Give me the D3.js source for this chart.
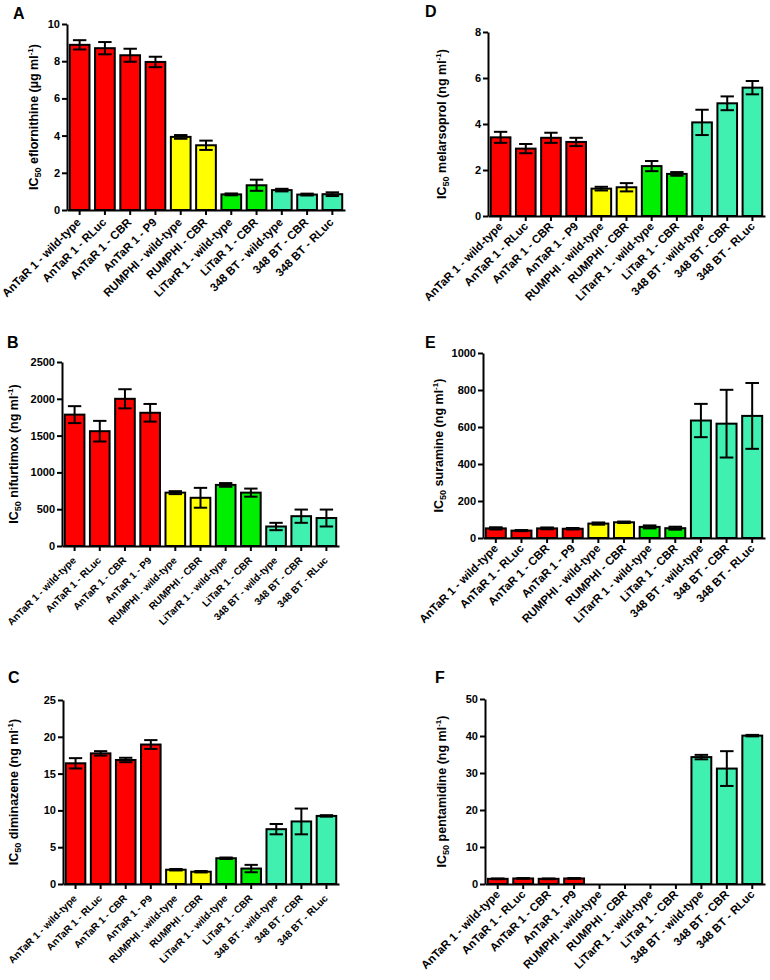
<!DOCTYPE html>
<html>
  <head>
    <script src="https://d3js.org/d3.v7.min.js"></script>
    <style>
      body { margin: 0; background: #fff; }
      text { font-family: "Liberation Sans", Arial, sans-serif; font-weight: bold; }
    </style>
  </head>
  <body>
    <script>

    // cell lines on the x axis, and the group each belongs to (sets the colour)
    var categories = ["AnTaR 1 - wild-type", "AnTaR 1 - RLuc", "AnTaR 1 - CBR", "AnTaR 1 - P9",
                      "RUMPHI - wild-type", "RUMPHI - CBR", "LiTarR 1 - wild-type", "LiTaR 1 - CBR",
                      "348 BT - wild-type", "348 BT - CBR", "348 BT - RLuc"];
    var groups = ["AnTaR", "AnTaR", "AnTaR", "AnTaR", "RUMPHI", "RUMPHI",
                  "LiTaR", "LiTaR", "348BT", "348BT", "348BT"];

    // IC50 means and error
    var eflornithine    = [8.88, 8.70, 8.32, 7.96, 3.93, 3.48, 0.84, 1.33, 1.07, 0.83, 0.85];
    var eflornithineErr = [0.25, 0.33, 0.35, 0.28, 0.10, 0.25, 0.05, 0.30, 0.07, 0.05, 0.10];
    var nifurtimox      = [1785, 1560, 2000, 1810, 725, 655, 830, 725, 265, 405, 380];
    var nifurtimoxErr   = [115, 140, 130, 120, 20, 135, 25, 55, 50, 90, 115];
    var diminazene      = [16.4, 17.75, 16.85, 18.95, 1.94, 1.67, 3.5, 2.1, 7.45, 8.5, 9.25];
    var diminazeneErr   = [0.7, 0.3, 0.3, 0.6, 0.1, 0.1, 0.1, 0.5, 0.7, 1.75, 0.1];
    var melarsoprol     = [3.42, 2.93, 3.40, 3.22, 1.19, 1.25, 2.17, 1.83, 4.07, 4.90, 5.58];
    var melarsoprolErr  = [0.24, 0.20, 0.22, 0.18, 0.08, 0.18, 0.22, 0.08, 0.55, 0.30, 0.29];
    var suramine        = [52, 40, 52, 50, 78, 85, 60, 53, 635, 618, 660];
    var suramineErr     = [6, 3, 5, 4, 6, 4, 8, 8, 90, 183, 178];
    var pentamidine     = [1.4, 1.5, 1.4, 1.5, null, null, null, null, 34.3, 31.2, 40.1];
    var pentamidineErr  = [0.1, 0.1, 0.1, 0.1, null, null, null, null, 0.6, 4.7, 0.2];

    // y axis tick values per panel
    var ticksA = [0, 2, 4, 6, 8, 10];
    var ticksB = [0, 500, 1000, 1500, 2000, 2500];
    var ticksC = [0, 5, 10, 15, 20, 25];
    var ticksD = [0, 2, 4, 6, 8];
    var ticksE = [0, 200, 400, 600, 800, 1000];
    var ticksF = [0, 10, 20, 30, 40, 50];

    var colors = { "AnTaR": "#ff0000", "RUMPHI": "#ffff00", "LiTaR": "#00ee00", "348BT": "#40f0b0" };

    // panel layout (pixels); lab = x label font size, labX/labY = offset of label end from tick
    var panels = [
      { letter: "A", drug: "eflornithine", unit: "µg", values: eflornithine, errors: eflornithineErr, ticks: ticksA,
        left: 67, right: 345, top: 24, bottom: 210, titleX: 38, letterX: 13, letterY: 19,
        lab: 11.5, labX: 2, labY: 13 },
      { letter: "B", drug: "nifurtimox", unit: "ng", values: nifurtimox, errors: nifurtimoxErr, ticks: ticksB,
        left: 62, right: 339, top: 362, bottom: 546, titleX: 18, letterX: 7, letterY: 348,
        lab: 10, labX: 2, labY: 15 },
      { letter: "C", drug: "diminazene", unit: "ng", values: diminazene, errors: diminazeneErr, ticks: ticksC,
        left: 63, right: 339, top: 700, bottom: 884, titleX: 18, letterX: 8, letterY: 683,
        lab: 10, labX: 2, labY: 15 },
      { letter: "D", drug: "melarsoprol", unit: "ng", values: melarsoprol, errors: melarsoprolErr, ticks: ticksD,
        left: 488, right: 765, top: 32, bottom: 216, titleX: 446, letterX: 425, letterY: 17,
        lab: 11.5, labX: 3, labY: 11 },
      { letter: "E", drug: "suramine", unit: "ng", values: suramine, errors: suramineErr, ticks: ticksE,
        left: 483, right: 765, top: 353, bottom: 538, titleX: 443, letterX: 425, letterY: 348,
        lab: 11.5, labX: 3, labY: 11 },
      { letter: "F", drug: "pentamidine", unit: "ng", values: pentamidine, errors: pentamidineErr, ticks: ticksF,
        left: 485, right: 765, top: 699, bottom: 884, titleX: 446, letterX: 435, letterY: 683,
        lab: 11.5, labX: 3, labY: 11 }
    ];

    var svg = d3.select("body")
      .append("svg")
      .attr("width", 770)
      .attr("height", 980);

    panels.forEach(function(p) {
      var g = svg.append("g");

      var x = d3.scaleBand()
        .domain(categories)
        .range([p.left, p.right])
        .paddingInner(0.22)
        .paddingOuter(0.11);

      var y = d3.scaleLinear()
        .domain([0, d3.max(p.ticks)])
        .range([p.bottom, p.top]);

      var rows = categories.map(function(c, i) {
        return { cat: c, group: groups[i], v: p.values[i], e: p.errors[i] };
      }).filter(function(d) { return d.v != null; });

      // bars
      g.selectAll("rect")
        .data(rows)
        .enter()
        .append("rect")
        .attr("x", function(d) { return x(d.cat); })
        .attr("width", x.bandwidth())
        .attr("y", function(d) { return y(d.v); })
        .attr("height", function(d) { return y(0) - y(d.v); })
        .attr("fill", function(d) { return colors[d.group]; })
        .attr("stroke", "#000")
        .attr("stroke-width", 2);

      // error bars
      var cap = x.bandwidth() * 0.34;
      var err = g.selectAll(".err")
        .data(rows)
        .enter()
        .append("g")
        .attr("class", "err")
        .attr("stroke", "#000")
        .attr("stroke-width", 2);
      err.append("line")
        .attr("x1", function(d) { return x(d.cat) + x.bandwidth() / 2; })
        .attr("x2", function(d) { return x(d.cat) + x.bandwidth() / 2; })
        .attr("y1", function(d) { return y(d.v + d.e); })
        .attr("y2", function(d) { return y(Math.max(0, d.v - d.e)); });
      [1, -1].forEach(function(s) {
        err.append("line")
          .attr("x1", function(d) { return x(d.cat) + x.bandwidth() / 2 - cap; })
          .attr("x2", function(d) { return x(d.cat) + x.bandwidth() / 2 + cap; })
          .attr("y1", function(d) { return y(Math.max(0, d.v + s * d.e)); })
          .attr("y2", function(d) { return y(Math.max(0, d.v + s * d.e)); });
      });

      // y axis
      var yAxis = g.append("g")
        .attr("transform", "translate(" + p.left + ",0)")
        .call(d3.axisLeft(y).tickValues(p.ticks).tickFormat(d3.format("d"))
          .tickSize(5).tickSizeOuter(0).tickPadding(2));
      yAxis.selectAll("text").attr("font-size", "11px").attr("fill", "#000")
        .style("font-family", '"Liberation Sans", Arial, sans-serif');

      // x axis
      var xAxis = g.append("g")
        .attr("transform", "translate(0," + p.bottom + ")")
        .call(d3.axisBottom(x).tickSize(5).tickSizeOuter(0));
      xAxis.selectAll("text")
        .attr("font-size", p.lab + "px")
        .attr("fill", "#000")
        .style("font-family", '"Liberation Sans", Arial, sans-serif')
        .attr("text-anchor", "end")
        .attr("x", 0).attr("y", 0).attr("dy", 0)
        .attr("transform", "translate(" + p.labX + "," + p.labY + ") rotate(-45)");

      [yAxis, xAxis].forEach(function(a) {
        a.selectAll("path, line").attr("stroke", "#000").attr("stroke-width", 2);
      });

      // y axis title
      var title = g.append("text")
        .attr("transform", "translate(" + p.titleX + "," + ((p.top + p.bottom) / 2) + ") rotate(-90)")
        .attr("text-anchor", "middle")
        .attr("font-size", "12.5px");
      title.append("tspan").text("IC");
      title.append("tspan").text("50").attr("font-size", "9px").attr("dy", 3);
      title.append("tspan").text(" " + p.drug + " (" + p.unit + " ml").attr("dy", -3);
      title.append("tspan").text("-1").attr("font-size", "8px").attr("dy", -5);
      title.append("tspan").text(")").attr("dy", 5);

      // panel letter
      g.append("text")
        .attr("x", p.letterX)
        .attr("y", p.letterY)
        .attr("font-size", "16px")
        .text(p.letter);
    });

    </script>
  </body>
</html>
